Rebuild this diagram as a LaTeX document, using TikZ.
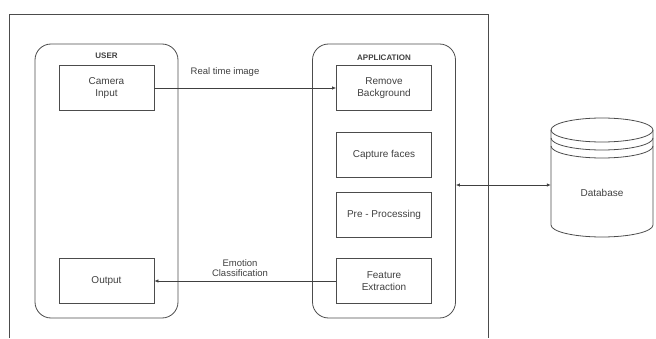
\documentclass[tikz,border=0pt]{standalone}
\usepackage{fontspec}
\setmainfont{Liberation Sans}
\usetikzlibrary{arrows.meta}
\begin{document}
\begin{tikzpicture}[x=1pt,y=1pt,
  every node/.style={font=\fontsize{10}{11.5}\selectfont, text=black!75},
  ln/.style={draw=black!70, line width=0.8pt},
  lane/.style={ln, rounded corners=16pt, minimum width=143pt, minimum height=274pt, inner sep=0pt},
  box/.style={ln, minimum width=95pt, minimum height=45pt, align=center, inner sep=1pt},
  lanetitle/.style={font=\bfseries\fontsize{8}{9}\selectfont},
  lbl/.style={align=center, font=\fontsize{9.5}{10.5}\selectfont},
  conn/.style={draw=black!75, line width=0.7pt, -{Latex[length=4pt,width=3.5pt]}}
]
\useasboundingbox (0,0) rectangle (656,338);
% outer frame (open at the bottom)
\draw[ln] (9,0) -- (9,324) -- (488,324) -- (488,0);

% swimlanes
\node[lane] (user) at (106.5,157) {};
\node[lane] (app) at (384,157) {};
\node[lanetitle] (usert) at (106.5,282) {USER};
\node[lanetitle] (appt) at (384,280) {APPLICATION};

% boxes
\node[box] (cam) at (106.5,250) {Camera\\Input};
\node[box] (out) at (106.5,57) {Output};
\node[box] (rb) at (384,250) {Remove\\Background};
\node[box] (cf) at (384,183.5) {Capture faces};
\node[box] (pp) at (384,123.5) {Pre - Processing};
\node[box] (fe) at (384,57) {Feature\\Extraction};

% database cylinder
\node[minimum width=102pt, minimum height=120pt, inner sep=0pt, font=\fontsize{10.5}{12}\selectfont] (db) at (602,160.5) {};
\node (dbt) at (602,145) {Database};
\draw[ln] (551,208) -- (551,113) arc[start angle=180,end angle=360,x radius=51pt,y radius=12pt] -- (653,208);
\draw[ln] (602,208) ellipse [x radius=51pt, y radius=12pt];
\draw[ln] (551,200) arc[start angle=180,end angle=360,x radius=51pt,y radius=12pt];
\draw[ln] (551,192) arc[start angle=180,end angle=360,x radius=51pt,y radius=12pt];

% connectors
\draw[conn] (cam.east) -- (rb.west);
\node[lbl] (rtl) at (225,266) {Real time image};
\draw[conn] (fe.west) -- (out.east);
\node[lbl] (ecl) at (240,70) {Emotion\\Classification};
\coordinate (dbrow) at (0,153);
\draw[conn, {Latex[length=4pt,width=3.5pt]}-{Latex[length=4pt,width=3.5pt]}] (app.east |- dbrow) -- (db.west |- dbrow);
\end{tikzpicture}
\end{document}
